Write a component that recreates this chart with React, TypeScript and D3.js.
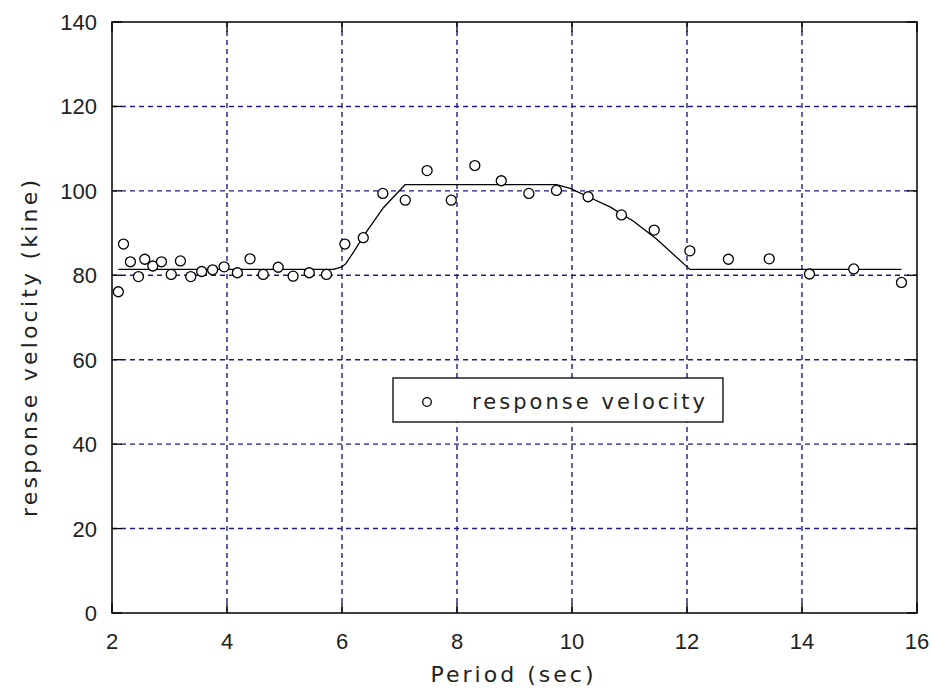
import React from "react";
import * as d3 from "d3";

const periods = [2.11, 2.2, 2.32, 2.46, 2.57, 2.71, 2.86, 3.03, 3.19, 3.37, 3.56, 3.75, 3.95, 4.18, 4.4, 4.63, 4.89, 5.15, 5.43, 5.73, 6.05, 6.37, 6.71, 7.1, 7.48, 7.9, 8.31, 8.77, 9.25, 9.73, 10.28, 10.86, 11.43, 12.05, 12.72, 13.43, 14.13, 14.9, 15.73];
const velocities = [76.1, 87.4, 83.2, 79.7, 83.8, 82.2, 83.2, 80.2, 83.4, 79.7, 80.9, 81.3, 82.0, 80.6, 83.9, 80.2, 81.9, 79.8, 80.6, 80.2, 87.4, 88.9, 99.4, 97.8, 104.8, 97.8, 106.0, 102.4, 99.4, 100.1, 98.6, 94.3, 90.7, 85.8, 83.8, 83.9, 80.3, 81.5, 78.3];

const curvePeriods = [2.11, 5.85, 6.0, 6.07, 6.2, 6.37, 6.72, 7.1, 9.73, 9.97, 10.28, 10.66, 11.07, 11.47, 12.05, 15.73];
const curveVelocities = [81.4, 81.4, 82.0, 82.8, 85.5, 89.2, 96.0, 101.5, 101.5, 100.6, 98.6, 96.2, 92.8, 88.6, 81.4, 81.4];

const xTicks = [2, 4, 6, 8, 10, 12, 14, 16];
const yTicks = [0, 20, 40, 60, 80, 100, 120, 140];

const xTitle = "Period (sec)";
const yTitle = "response velocity (kine)";
const legendLabel = "response velocity";

export default function App() {
  const W = 931, H = 695;
  const left = 112, right = 917, top = 22, bottom = 613;
  const x = d3.scaleLinear().domain([2, 16]).range([left, right]);
  const y = d3.scaleLinear().domain([0, 140]).range([bottom, top]);
  const gridColor = "#1e1e84";
  const font = "'DejaVu Sans', 'Liberation Sans', sans-serif";
  const tickFont = "'Liberation Sans', Arial, sans-serif";
  const textColor = "#222";
  const tickLen = 10;

  const line = d3.line<number>()
    .x((_, i) => x(curvePeriods[i]))
    .y((_, i) => y(curveVelocities[i]))
    .curve(d3.curveLinear);

  return (
    <svg width={W} height={H} style={{ position: "absolute", left: 0, top: 0, background: "#fff" }}>
      <rect x={0} y={0} width={W} height={H} fill="#fff" />
      {xTicks.slice(1, -1).map((t) => (
        <line key={"gx" + t} x1={x(t)} x2={x(t)} y1={top} y2={bottom} stroke={gridColor} strokeWidth={1.4} strokeDasharray="5,4" />
      ))}
      {yTicks.slice(1, -1).map((t) => (
        <line key={"gy" + t} x1={left} x2={right} y1={y(t)} y2={y(t)} stroke={gridColor} strokeWidth={1.4} strokeDasharray="5,4" />
      ))}
      {xTicks.map((t) => (
        <g key={"tx" + t}>
          <line x1={x(t)} x2={x(t)} y1={bottom} y2={bottom - tickLen} stroke="#000" strokeWidth={1.3} />
          <line x1={x(t)} x2={x(t)} y1={top} y2={top + tickLen} stroke="#000" strokeWidth={1.3} />
          <text x={x(t)} y={649} textAnchor="middle" fontFamily={tickFont} fontSize={22} fill={textColor}>{t}</text>
        </g>
      ))}
      {yTicks.map((t) => (
        <g key={"ty" + t}>
          <line x1={left} x2={left + tickLen} y1={y(t)} y2={y(t)} stroke="#000" strokeWidth={1.3} />
          <line x1={right} x2={right - tickLen} y1={y(t)} y2={y(t)} stroke="#000" strokeWidth={1.3} />
          <text x={97} y={y(t) + 8} textAnchor="end" fontFamily={tickFont} fontSize={22} fill={textColor}>{t}</text>
        </g>
      ))}
      <rect x={left} y={top} width={right - left} height={bottom - top} fill="none" stroke="#000" strokeWidth={1.5} />
      <path d={line(curvePeriods) || ""} fill="none" stroke="#000" strokeWidth={1.3} strokeLinejoin="round" />
      {periods.map((p, i) => (
        <circle key={"p" + i} cx={x(p)} cy={y(velocities[i])} r={5} fill="#fff" stroke="#000" strokeWidth={1.3} />
      ))}
      <rect x={393} y={378} width={330} height={44} fill="#fff" stroke="#000" strokeWidth={1.3} />
      <circle cx={427} cy={402} r={4.3} fill="#fff" stroke="#000" strokeWidth={1.3} />
      <text x={472} y={409} fontFamily={font} fontSize={21} fill={textColor} textLength={233} lengthAdjust="spacing">{legendLabel}</text>
      <text x={512} y={682} textAnchor="middle" fontFamily={font} fontSize={22} fill={textColor} textLength={163} lengthAdjust="spacing">{xTitle}</text>
      <text transform={`translate(37, 348.5) rotate(-90)`} textAnchor="middle" fontFamily={font} fontSize={22} fill={textColor} textLength={337} lengthAdjust="spacing">{yTitle}</text>
    </svg>
  );
}
